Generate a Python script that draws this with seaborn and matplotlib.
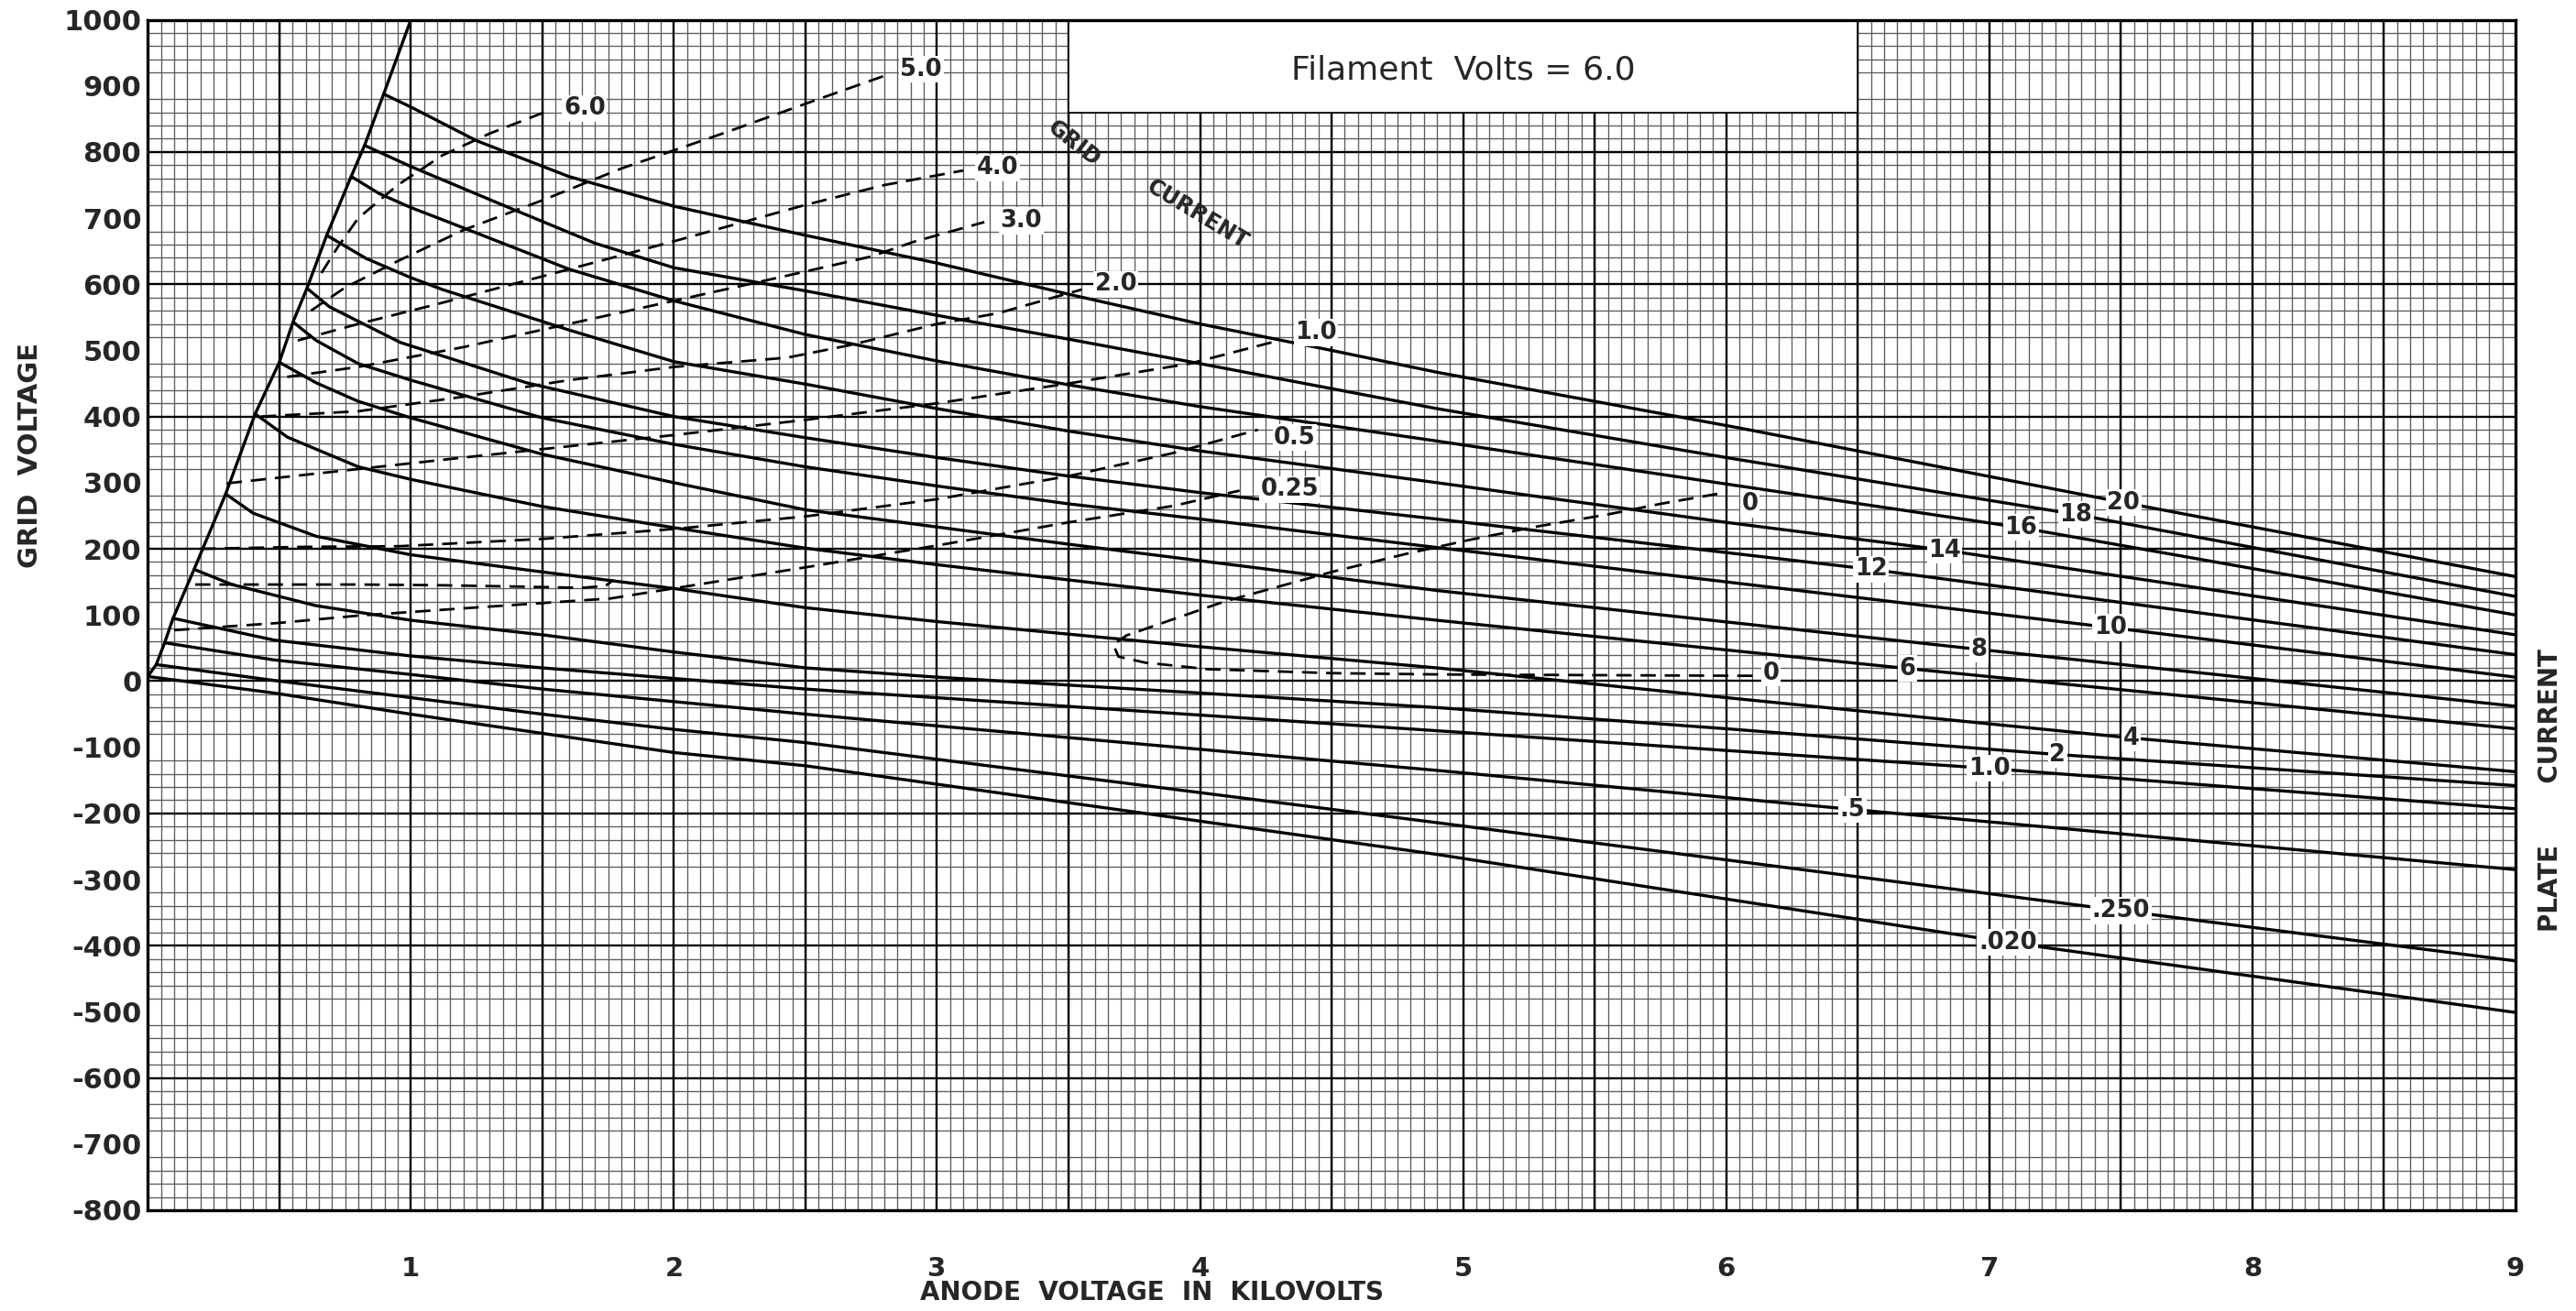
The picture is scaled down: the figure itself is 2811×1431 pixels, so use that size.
import numpy as np
import pandas as pd
import seaborn as sns
import matplotlib.pyplot as plt
from matplotlib.patches import Rectangle
from matplotlib.ticker import MultipleLocator

# constant plate current lines (mA): anode kV -> grid volts
ip_20_kv = [0.90, 1.0, 1.25, 1.6, 2.0, 2.5, 3.0, 3.5, 4.0, 4.5, 4.9, 6.06, 7.51, 9.0]
ip_20_v = [887, 868, 817, 763, 718, 674, 632, 585, 540, 500, 467, 382, 270, 158]
ip_18_kv = [0.824, 1.0, 1.36, 1.7, 2.0, 2.5, 3.0, 3.5, 4.0, 4.9, 6.0, 7.33, 9.0]
ip_18_v = [810, 778, 718, 662, 625, 590, 553, 517, 480, 412, 338, 252, 128]
ip_16_kv = [0.773, 0.88, 1.0, 1.15, 1.6, 2.0, 2.5, 3.0, 3.5, 4.0, 4.9, 6.0, 7.12, 9.0]
ip_16_v = [763, 737, 716, 693, 623, 575, 524, 484, 448, 415, 363, 298, 232, 100]
ip_14_kv = [0.68, 0.83, 1.0, 1.12, 1.6, 2.0, 2.5, 3.0, 3.5, 4.0, 4.9, 6.0, 6.83, 9.0]
ip_14_v = [674, 639, 610, 592, 531, 483, 449, 412, 378, 348, 300, 240, 198, 70]
ip_12_kv = [0.605, 0.69, 0.96, 1.44, 2.0, 2.5, 3.0, 3.5, 4.0, 4.9, 6.55, 9.0]
ip_12_v = [594, 566, 512, 451, 400, 368, 338, 310, 285, 245, 169, 40]
ip_10_kv = [0.552, 0.64, 0.8, 1.0, 1.5, 2.0, 2.5, 3.0, 3.5, 4.0, 4.9, 6.0, 7.46, 9.0]
ip_10_v = [543, 515, 480, 455, 398, 358, 324, 295, 268, 245, 202, 150, 81, 6]
ip_8_kv = [0.5, 0.64, 0.8, 1.0, 1.5, 2.0, 2.5, 3.0, 3.5, 4.0, 4.9, 6.96, 9.0]
ip_8_v = [482, 451, 423, 398, 343, 300, 259, 233, 207, 182, 137, 48, -38]
ip_6_kv = [0.408, 0.53, 0.8, 1.0, 1.5, 2.0, 2.5, 3.0, 4.0, 4.9, 6.69, 9.0]
ip_6_v = [404, 369, 324, 305, 264, 232, 201, 176, 130, 92, 19, -72]
ip_4_kv = [0.296, 0.4, 0.64, 1.0, 1.5, 2.0, 2.5, 3.0, 4.0, 4.9, 6.0, 7.54, 9.0]
ip_4_v = [283, 254, 219, 191, 165, 140, 111, 90, 52, 20, -25, -86, -137]
ip_2_kv = [0.176, 0.32, 0.64, 1.0, 1.5, 2.0, 2.5, 3.0, 4.0, 4.9, 6.0, 7.26, 9.0]
ip_2_v = [169, 146, 114, 92, 70, 44, 20, 6, -18, -40, -72, -111, -158]
ip_1_kv = [0.096, 0.48, 1.0, 1.5, 2.0, 2.5, 4.9, 7.0, 9.0]
ip_1_v = [95, 62, 38, 20, 4, -12, -75, -132, -193]
ip_05_kv = [0.064, 0.48, 1.0, 1.5, 2.0, 2.5, 4.9, 6.48, 9.0]
ip_05_v = [58, 32, 10, -12, -31, -50, -135, -194, -285]
ip_025_kv = [0.032, 0.48, 1.0, 1.5, 2.0, 2.5, 4.9, 7.5, 9.0]
ip_025_v = [25, 1, -25, -50, -73, -93, -214, -347, -423]
ip_002_kv = [0.0, 0.48, 1.0, 1.5, 2.0, 2.5, 4.9, 7.07, 9.0]
ip_002_v = [7, -18, -50, -79, -108, -128, -262, -395, -501]

plate_names = ["20", "18", "16", "14", "12", "10", "8", "6", "4", "2", "1.0", ".5", ".250", ".020"]
plate_kv = [ip_20_kv, ip_18_kv, ip_16_kv, ip_14_kv, ip_12_kv, ip_10_kv, ip_8_kv,
            ip_6_kv, ip_4_kv, ip_2_kv, ip_1_kv, ip_05_kv, ip_025_kv, ip_002_kv]
plate_v = [ip_20_v, ip_18_v, ip_16_v, ip_14_v, ip_12_v, ip_10_v, ip_8_v,
           ip_6_v, ip_4_v, ip_2_v, ip_1_v, ip_05_v, ip_025_v, ip_002_v]
plate_label_kv = [7.51, 7.33, 7.12, 6.83, 6.55, 7.46, 6.96, 6.69, 7.54, 7.26, 7.0, 6.48, 7.5, 7.07]
plate_label_v = [270, 252, 232, 198, 169, 81, 48, 19, -86, -111, -132, -194, -347, -395]

# limit line through the knees
edge_kv = [0.0, 0.032, 0.064, 0.096, 0.176, 0.296, 0.408, 0.5, 0.552, 0.605, 0.68, 0.773, 0.824, 0.896, 1.0]
edge_v = [7, 25, 58, 95, 169, 283, 404, 482, 543, 594, 674, 763, 810, 887, 1000]

# constant grid current lines (mA), dashed
ig_60_kv = [0.66, 0.72, 0.80, 0.95, 1.12, 1.30, 1.52]
ig_60_v = [617, 655, 700, 750, 795, 828, 862]
ig_50_kv = [0.62, 0.75, 0.95, 1.2, 1.5, 1.8, 2.2, 2.55, 2.82]
ig_50_v = [560, 595, 635, 682, 727, 775, 830, 880, 918]
ig_40_kv = [0.57, 0.8, 1.1, 1.5, 2.0, 2.5, 2.8, 3.1]
ig_40_v = [515, 540, 570, 612, 665, 720, 750, 772]
ig_30_kv = [0.53, 0.8, 1.2, 1.6, 2.0, 2.43, 2.75, 2.91, 3.18]
ig_30_v = [460, 475, 505, 540, 575, 613, 642, 664, 694]
ig_20_kv = [0.43, 0.8, 1.2, 1.6, 2.0, 2.43, 2.67, 3.0, 3.23, 3.55]
ig_20_v = [400, 408, 430, 455, 475, 489, 508, 540, 556, 592]
ig_10_kv = [0.3, 0.6, 0.9, 1.2, 1.6, 2.0, 2.5, 3.0, 3.5, 3.96, 4.3]
ig_10_v = [299, 312, 325, 338, 355, 372, 395, 420, 450, 480, 515]
ig_05_kv = [0.2, 0.6, 0.96, 1.5, 2.0, 2.5, 3.0, 3.5, 3.9, 4.22]
ig_05_v = [200, 203, 204, 215, 230, 249, 275, 310, 345, 380]
ig_025_kv = [0.1, 0.5, 0.8, 1.2, 1.76, 2.5, 3.0, 3.5, 3.9, 4.15]
ig_025_v = [77, 88, 99, 110, 125, 172, 205, 240, 265, 288]
ig_hook_kv = [0.18, 0.5, 0.8, 1.1, 1.4, 1.65, 1.74, 1.77]
ig_hook_v = [146, 146, 146, 145, 143, 141, 144, 153]
ig_0_kv = [6.1, 5.5, 4.93, 4.5, 4.03, 3.79, 3.69, 3.67, 3.72, 4.09, 4.5, 4.79, 5.03, 5.27, 5.55, 5.75, 5.98]
ig_0_v = [8, 9, 10, 12, 18, 28, 37, 55, 69, 120, 165, 193, 214, 233, 252, 268, 284]

grid_names = ["6.0", "5.0", "4.0", "3.0", "2.0", "1.0", "0.5", "0.25", "hook", "0"]
grid_kv = [ig_60_kv, ig_50_kv, ig_40_kv, ig_30_kv, ig_20_kv, ig_10_kv, ig_05_kv, ig_025_kv, ig_hook_kv, ig_0_kv]
grid_v = [ig_60_v, ig_50_v, ig_40_v, ig_30_v, ig_20_v, ig_10_v, ig_05_v, ig_025_v, ig_hook_v, ig_0_v]
grid_label_text = ["6.0", "5.0", "4.0", "3.0", "2.0", "1.0", "0.5", "0.25", "0", "0"]
grid_label_kv = [1.66, 2.94, 3.23, 3.32, 3.68, 4.44, 4.36, 4.34, 6.09, 6.17]
grid_label_v = [866, 925, 776, 696, 600, 527, 368, 290, 268, 12]

x_ticks = [1, 2, 3, 4, 5, 6, 7, 8, 9]
y_ticks = list(range(-800, 1001, 100))

plate_df = pd.concat([pd.DataFrame({"kv": k, "grid": v, "curve": n})
                      for n, k, v in zip(plate_names, plate_kv, plate_v)], ignore_index=True)
gridc_df = pd.concat([pd.DataFrame({"kv": k, "grid": v, "curve": n})
                      for n, k, v in zip(grid_names, grid_kv, grid_v)], ignore_index=True)
edge_df = pd.DataFrame({"kv": edge_kv, "grid": edge_v})

sns.set_style("white")
plt.rcParams["font.family"] = ["DejaVu Sans"]

fig = plt.figure(figsize=(28.11, 14.31), dpi=100)
ax = fig.add_axes([0.05738, 0.07687, 0.9191, 0.9081])
ax.set_xlim(0, 9)
ax.set_ylim(-800, 1000)

# graph paper
ax.xaxis.set_minor_locator(MultipleLocator(0.05))
ax.yaxis.set_minor_locator(MultipleLocator(20))
ax.grid(which="minor", color="#5c5c5c", lw=0.95, zorder=0)
ax.vlines(np.arange(0.5, 9, 0.5), -800, 1000, color="black", lw=1.7, zorder=1)
ax.hlines(np.arange(-600, 1000, 200), 0, 9, color="black", lw=1.7, zorder=1)
for s in ax.spines.values():
    s.set_linewidth(2.4)
    s.set_color("black")
ax.set_axisbelow(True)

ax.add_patch(Rectangle((3.5, 860), 3.0, 140, facecolor="white", edgecolor="black", lw=1.2, zorder=2))
ax.text(5.0, 924, "Filament  Volts = 6.0", ha="center", va="center", fontsize=26, zorder=6)

sns.lineplot(data=plate_df, x="kv", y="grid", units="curve", estimator=None, sort=False,
             color="black", lw=2.4, ax=ax, zorder=3)
sns.lineplot(data=edge_df, x="kv", y="grid", estimator=None, sort=False,
             color="black", lw=2.4, ax=ax, zorder=3)
sns.lineplot(data=gridc_df, x="kv", y="grid", units="curve", estimator=None, sort=False,
             color="black", lw=2.0, linestyle=(0, (6, 3.5)), ax=ax, zorder=3)

lab_kw = dict(ha="center", va="center", fontsize=18.5, fontweight="bold", zorder=5,
              bbox=dict(facecolor="white", edgecolor="none", pad=1.2))
for t, x, y in zip(plate_names, plate_label_kv, plate_label_v):
    ax.text(x, y, t, **lab_kw)
for t, x, y in zip(grid_label_text, grid_label_kv, grid_label_v):
    ax.text(x, y, t, **lab_kw)

ax.text(3.52, 813, "GRID", rotation=-38, ha="center", va="center", fontsize=17, fontweight="bold", zorder=5)
ax.text(3.99, 705, "CURRENT", rotation=-31, ha="center", va="center", fontsize=17, fontweight="bold", zorder=5)

ax.set_xticks(x_ticks)
ax.set_xticklabels([str(t) for t in x_ticks])
ax.set_yticks(y_ticks)
ax.set_yticklabels([str(t) for t in y_ticks])
ax.tick_params(axis="x", length=0, pad=36, labelsize=21)
ax.tick_params(axis="y", length=0, pad=5, labelsize=22)
for lab in ax.get_xticklabels() + ax.get_yticklabels():
    lab.set_fontweight("bold")
ax.set_xlabel("")
ax.set_ylabel("")

fig.text(1257 / 2811, 1 - 1411 / 1431, "ANODE  VOLTAGE  IN  KILOVOLTS", ha="center", va="center",
         fontsize=20, fontweight="bold")
fig.text(33 / 2811, 1 - 497 / 1431, "GRID  VOLTAGE", rotation=90, ha="center", va="center",
         fontsize=21, fontweight="bold")
fig.text(2783 / 2811, 1 - 863 / 1431, "PLATE       CURRENT", rotation=90, ha="center", va="center",
         fontsize=20, fontweight="bold")

fig.savefig("out.png", dpi=100, facecolor="white")
